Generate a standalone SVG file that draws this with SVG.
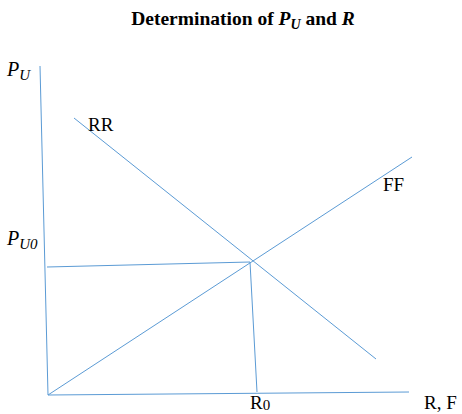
<svg xmlns="http://www.w3.org/2000/svg" width="462" height="414" viewBox="0 0 462 414">
<style>
.ln{stroke:#5B9BD5;stroke-width:1;fill:none}
.t{font-family:"Liberation Serif",serif;font-size:19px;fill:#000}
.m{font-family:"Liberation Serif",serif;font-style:italic;fill:#000}
</style>
<rect width="462" height="414" fill="#fff"/>
<g id="title"><text x="243" y="25" text-anchor="middle" font-family="Liberation Serif,serif" font-weight="bold" font-size="19.5">Determination of <tspan font-style="italic">P</tspan><tspan font-style="italic" font-size="14" dy="4">U</tspan><tspan dy="-4"> and </tspan><tspan font-style="italic">R</tspan></text></g>
<g id="connectors">
<line class="ln" x1="40" y1="66" x2="48" y2="395"/>
<line class="ln" x1="48" y1="395" x2="409" y2="392"/>
<line class="ln" x1="74" y1="118" x2="376" y2="359"/>
<line class="ln" x1="48" y1="395" x2="412" y2="157"/>
<line class="ln" x1="47" y1="267" x2="250" y2="262"/>
<line class="ln" x1="250" y1="262" x2="257" y2="392"/>
</g>
<g id="pu"><text class="m" x="7" y="76" font-size="20">P<tspan font-size="15" dy="4">U</tspan></text></g>
<g id="pu0"><text class="m" x="7" y="245" font-size="20">P<tspan font-size="15" dy="4">U0</tspan></text></g>
<g id="rr"><text class="t" x="88" y="131">RR</text></g>
<g id="ff"><text class="t" x="383" y="191">FF</text></g>
<g id="r0"><text class="t" x="250" y="409">R<tspan font-size="15" dy="1">0</tspan></text></g>
<g id="rf"><text class="t" x="424" y="409">R, F</text></g>
</svg>
